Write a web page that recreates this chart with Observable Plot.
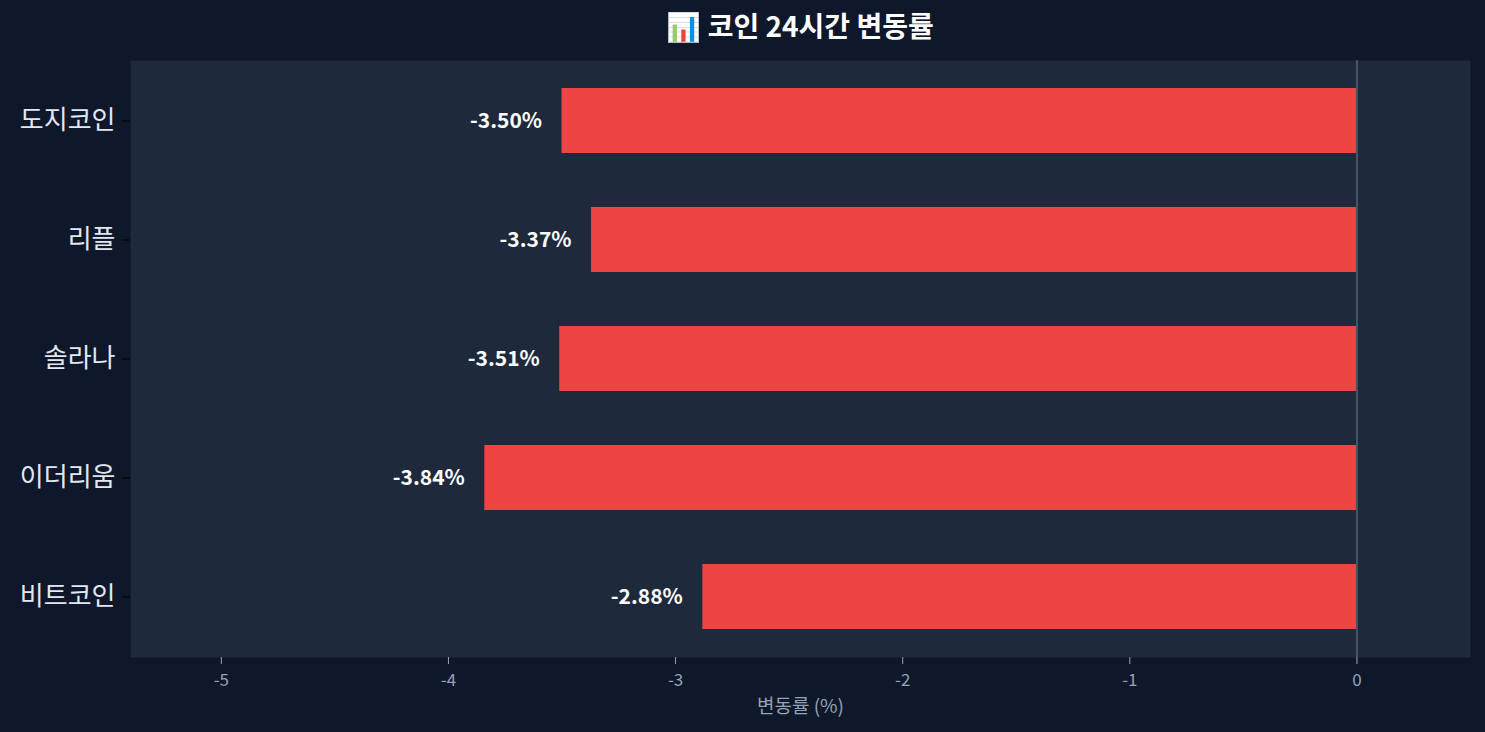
<!DOCTYPE html>
<html>
<head>
<meta charset="utf-8">
<script src="https://cdn.jsdelivr.net/npm/d3@7"></script>
<script src="https://cdn.jsdelivr.net/npm/@observablehq/plot@0.6"></script>
<style>
  html, body { margin:0; padding:0; background:#0f172a; }
  #title { height:60px; line-height:50px; width:1340px; margin-left:130px; text-align:center; color:#ffffff; font-family:"Noto Sans CJK KR","Noto Sans",sans-serif; font-weight:bold; font-size:28px; white-space:nowrap; }
  #chart svg { display:block; }
</style>
</head>
<body>
<div id="title">📊 코인 24시간 변동률</div>
<div id="chart"></div>
<script>
const coins = ["비트코인", "이더리움", "솔라나", "리플", "도지코인"];
const changes = [-2.88, -3.84, -3.51, -3.37, -3.50];
const xTicks = [-5, -4, -3, -2, -1, 0];
const xLabel = "변동률 (%)";

const data = coins.map((c, i) => ({coin: c, change: changes[i]}));
const order = coins.slice().reverse();

const chart = Plot.plot({
  width: 1485,
  height: 672,
  marginTop: 0,
  marginBottom: 75,
  marginLeft: 130,
  marginRight: 15,
  style: {background: "transparent", fontFamily: "'Noto Sans CJK KR', 'Noto Sans', sans-serif"},
  x: {domain: [-5.4, 0.5], label: null},
  y: {domain: order, paddingInner: 0.45, paddingOuter: 0.225, label: null},
  marks: [
    Plot.frame({fill: "#1e293b", stroke: null}),
    Plot.barX(data, {x: "change", y: "coin", fill: "#ef4444"}),
    Plot.ruleX([0], {stroke: "#475569", strokeWidth: 2}),
    Plot.text(data, {x: "change", y: "coin", text: d => d.change.toFixed(2) + "%", textAnchor: "end", dx: -20, fill: "#ffffff", fontWeight: "bold", fontSize: 21}),
    Plot.axisX({ticks: xTicks, tickFormat: d => String(d), tickSize: 7, stroke: "#94a3b8", fill: "#94a3b8", fontSize: 17, tickPadding: 9, label: null}),
    Plot.axisY({tickSize: 8, stroke: "#000000", fill: "#e2e8f0", fontSize: 26, tickPadding: 7, label: null}),
    Plot.text([xLabel], {frameAnchor: "bottom", text: d => d, dy: 49, lineAnchor: "middle", fill: "#94a3b8", fontSize: 19})
  ]
});
document.getElementById("chart").appendChild(chart);
</script>
</body>
</html>
